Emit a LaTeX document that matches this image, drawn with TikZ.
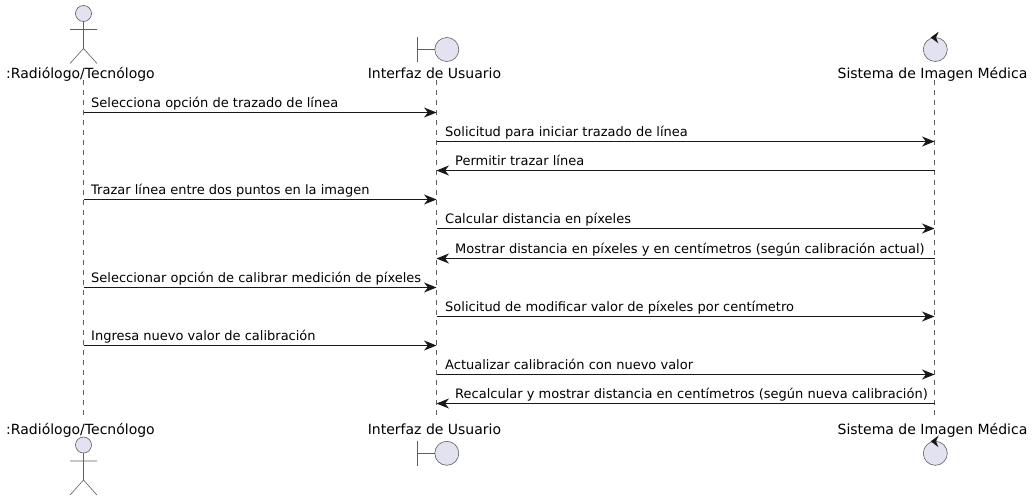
\documentclass[tikz,border=0pt]{standalone}
\usepackage{fontspec}
\setmainfont{DejaVu Sans}
\usetikzlibrary{positioning,arrows.meta,calc}
\definecolor{symfill}{HTML}{E2E2F0}
\definecolor{symline}{HTML}{5F5F5F}
\definecolor{msgline}{HTML}{181818}

% one glyph for each kind of participant, drawn around the given point
\newcommand{\actorfig}[2]{
  \draw[sym] (#1,#2) circle (8);
  \draw[sym, fill=none] (#1,#2+8) -- (#1,#2+35) (#1-13.5,#2+16) -- (#1+13.5,#2+16)
    (#1-13.5,#2+50) -- (#1,#2+35) -- (#1+13.5,#2+50);
}
\newcommand{\boundaryfig}[2]{
  \draw[sym] (#1,#2) circle (12);
  \draw[sym, fill=none] (#1-12,#2) -- (#1-29.5,#2) (#1-29.5,#2-12.5) -- (#1-29.5,#2+12.5);
}
\newcommand{\controlfig}[2]{
  \draw[sym] (#1,#2) circle (12);
  \fill[msgline] (#1-4.6,#2-12) -- (#1+3.4,#2-17.8) -- (#1+0.7,#2-12) -- (#1+3,#2-6.2) -- cycle;
}

\begin{document}
\begin{tikzpicture}[
  x=1pt, y=-1pt,
  part/.style={font=\fontsize{14}{16}\selectfont, inner sep=0pt, anchor=base, text=black},
  msg/.style={font=\fontsize{13}{15}\selectfont, inner sep=0pt, anchor=base west, text=black},
  sym/.style={draw=symline, fill=symfill, line width=0.6pt},
  life/.style={draw=symline, line width=0.6pt, dash pattern=on 5pt off 5pt},
  arr/.style={-{Stealth[length=12.5pt, width=10pt, inset=4pt]}, draw=msgline, line width=0.9pt}
]
\useasboundingbox (0,0) rectangle (1033,501);

\node[part] (radtop) at (80.5,78) {:Radiólogo/Tecnólogo};
\node[part] (ifztop) at (434.5,78) {Interfaz de Usuario};
\node[part] (sistop) at (932.5,78) {Sistema de Imagen Médica};
\node[part] (radbot) at (80.5,434) {:Radiólogo/Tecnólogo};
\node[part] (ifzbot) at (434.5,434) {Interfaz de Usuario};
\node[part] (sisbot) at (932.5,434) {Sistema de Imagen Médica};

\actorfig{83.5}{13.5}
\boundaryfig{446.8}{49.5}
\controlfig{935.3}{49.5}
\actorfig{83.5}{445}
\boundaryfig{446.8}{453.3}
\controlfig{935.3}{453.3}

% lifelines
\coordinate (radA) at (83.5,80);
\coordinate (radB) at (83.5,417);
\coordinate (ifzA) at (436.5,80);
\coordinate (ifzB) at (436.5,417);
\coordinate (sisA) at (934.5,80);
\coordinate (sisB) at (934.5,417);
\draw[life] (radA) -- (radB);
\draw[life] (ifzA) -- (ifzB);
\draw[life] (sisA) -- (sisB);

% one row of points per message
\foreach \n/\y in {1/112.5,2/141.5,3/170.5,4/199.5,5/228.5,6/258.5,7/287.5,8/316.5,9/345.5,10/374.5,11/403.5}{
  \coordinate (rad\n) at (83.5,\y);
  \coordinate (ifz\n) at (436.5,\y);
  \coordinate (sis\n) at (934.5,\y);
}

\node[msg] (m1) at ($(rad1)+(7.5,-5)$) {Selecciona opción de trazado de línea};
\node[msg] (m2) at ($(ifz2)+(8.5,-5)$) {Solicitud para iniciar trazado de línea};
\node[msg] (m3) at ($(ifz3)+(18.5,-5)$) {Permitir trazar línea};
\node[msg] (m4) at ($(rad4)+(7.5,-5)$) {Trazar línea entre dos puntos en la imagen};
\node[msg] (m5) at ($(ifz5)+(8.5,-5)$) {Calcular distancia en píxeles};
\node[msg] (m6) at ($(ifz6)+(18.5,-5)$) {Mostrar distancia en píxeles y en centímetros (según calibración actual)};
\node[msg] (m7) at ($(rad7)+(7.5,-5)$) {Seleccionar opción de calibrar medición de píxeles};
\node[msg] (m8) at ($(ifz8)+(8.5,-5)$) {Solicitud de modificar valor de píxeles por centímetro};
\node[msg] (m9) at ($(rad9)+(7.5,-5)$) {Ingresa nuevo valor de calibración};
\node[msg] (m10) at ($(ifz10)+(8.5,-5)$) {Actualizar calibración con nuevo valor};
\node[msg] (m11) at ($(ifz11)+(18.5,-5)$) {Recalcular y mostrar distancia en centímetros (según nueva calibración)};

\draw[arr] (rad1) -- (ifz1);
\draw[arr] (ifz2) -- (sis2);
\draw[arr] (sis3) -- (ifz3);
\draw[arr] (rad4) -- (ifz4);
\draw[arr] (ifz5) -- (sis5);
\draw[arr] (sis6) -- (ifz6);
\draw[arr] (rad7) -- (ifz7);
\draw[arr] (ifz8) -- (sis8);
\draw[arr] (rad9) -- (ifz9);
\draw[arr] (ifz10) -- (sis10);
\draw[arr] (sis11) -- (ifz11);
\end{tikzpicture}
\end{document}
